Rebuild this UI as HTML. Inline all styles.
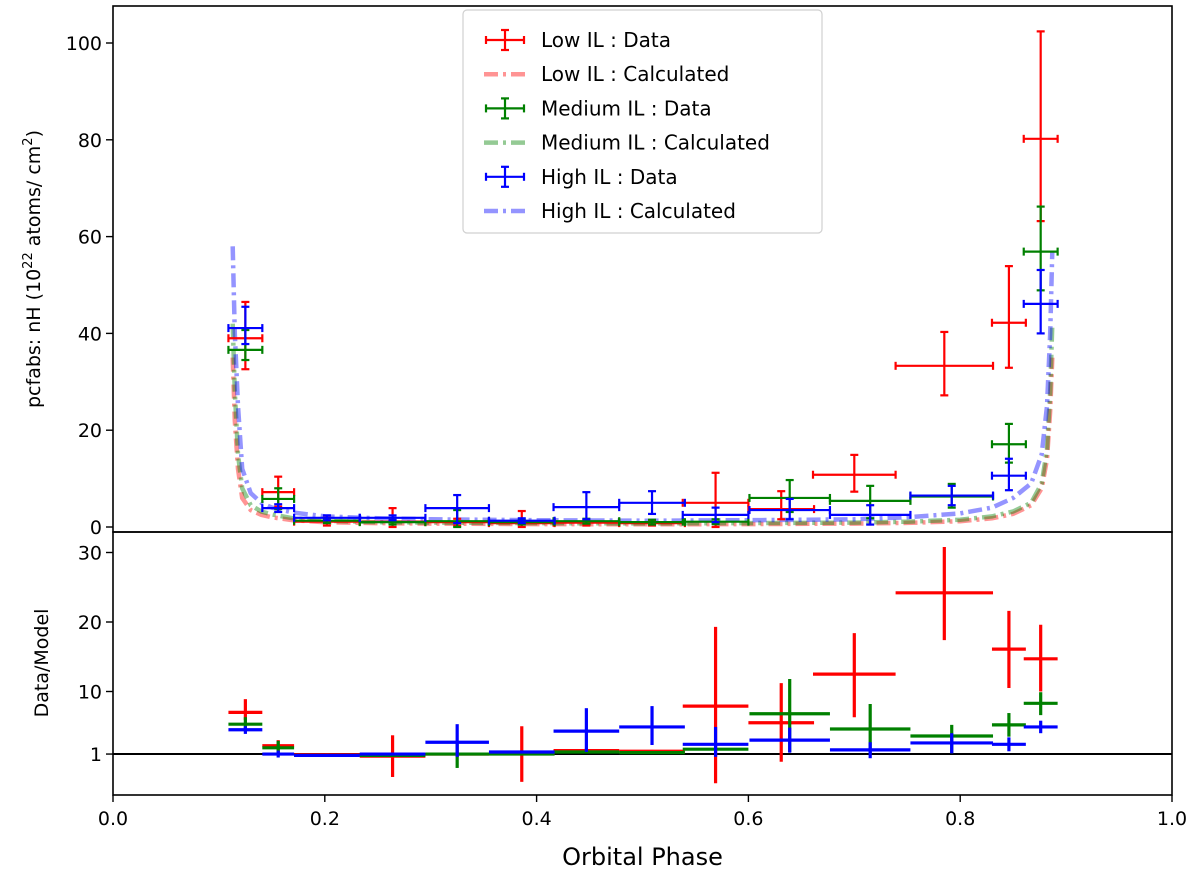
<!DOCTYPE html>
<html><head><meta charset="utf-8"><style>
body{margin:0;background:#fff}
svg{display:block;font-family:"DejaVu Sans","Liberation Sans",sans-serif}
</style></head><body>
<svg id="chart" width="1200" height="875" viewBox="0 0 1200 875" xmlns="http://www.w3.org/2000/svg"></svg>
<script>
// ---- data ----
const redPhase=[0.125,0.156,0.202,0.264,0.325,0.386,0.447,0.509,0.569,0.631,0.70,0.785,0.846,0.876];
const redPhaseErr=[0.016,0.015,0.031,0.031,0.030,0.031,0.031,0.031,0.031,0.031,0.039,0.046,0.016,0.016];
const redNH=[39,7.2,1.1,1.1,1.0,0.8,0.9,0.8,5.0,3.7,10.8,33.3,42.2,80.2];
const redNHLo=[32.6,4.2,0.3,0,0.3,0,0.3,0.3,0,1.6,7.3,27.2,32.9,63.2];
const redNHHi=[46.5,10.4,1.9,3.9,1.7,3.3,1.5,1.3,11.2,7.4,14.9,40.3,53.9,102.4];
const redRatio=[7.0,2.2,0.9,0.7,1.0,1.1,1.5,1.4,7.9,5.5,12.5,24.2,16.1,14.7];
const redRatioLo=[5.9,1.3,0.6,-2.3,0.6,-3,1.2,1.2,-3.2,-0.1,6.3,17.4,10.5,10.0];
const redRatioHi=[8.9,3.0,1.1,3.7,1.4,5.0,1.8,1.6,19.3,11.2,18.4,30.8,21.6,19.6];

const greenPhase=[0.125,0.156,0.202,0.264,0.325,0.386,0.447,0.509,0.569,0.639,0.715,0.792,0.846,0.876];
const greenPhaseErr=[0.016,0.015,0.031,0.031,0.030,0.031,0.031,0.031,0.031,0.038,0.038,0.039,0.016,0.016];
const greenNH=[36.6,5.8,1.3,1.0,1.2,1.0,1.2,1.0,1.1,6.0,5.4,6.3,17.1,56.9];
const greenNHLo=[34.5,3.7,0.8,0.5,0,0.5,0.7,0.5,0.6,3.1,1.8,4.0,13.3,48.9];
const greenNHHi=[40.7,8.0,1.8,1.5,3.5,1.5,1.7,1.5,1.6,9.7,8.5,8.9,21.3,66.2];
const greenRatio=[5.3,1.9,0.8,0.8,1.0,1.0,1.3,1.2,1.7,6.8,4.6,3.6,5.2,8.3];
const greenRatioLo=[4.3,0.9,0.6,0.6,-1.0,0.8,1.1,1.0,1.5,1.3,1.1,1.1,3.5,6.6];
const greenRatioHi=[6.3,2.9,1.0,1.0,2.5,1.2,1.5,1.4,1.9,11.8,8.2,5.2,6.9,9.9];

const bluePhase=[0.125,0.156,0.202,0.264,0.325,0.386,0.447,0.509,0.569,0.639,0.715,0.792,0.846,0.876];
const bluePhaseErr=[0.016,0.015,0.031,0.031,0.030,0.031,0.031,0.031,0.031,0.038,0.038,0.039,0.016,0.016];
const blueNH=[41.1,3.9,1.9,1.9,3.9,1.3,4.1,5.0,2.5,3.5,2.5,6.5,10.6,46.1];
const blueNHLo=[37.8,3.1,1.4,1.4,0.8,0.8,1.6,2.7,1.0,1.6,0.5,4.5,7.6,40];
const blueNHHi=[45.5,4.7,2.4,2.4,6.6,1.8,7.2,7.4,4.0,5.8,4.5,8.5,14.1,53.1];
const blueRatio=[4.5,1.0,0.8,1.0,2.7,1.3,4.3,4.9,2.4,3.0,1.6,2.6,2.4,4.9];
const blueRatioLo=[3.9,0.5,0.6,0.8,0.6,1.1,1.3,2.3,0.6,1.2,0.4,1.1,1.4,4.0];
const blueRatioHi=[5.0,1.5,1.0,1.2,5.3,1.5,7.6,7.9,4.9,4.8,2.7,4.0,3.4,5.8];

const modelPhase=[0.113,0.115,0.118,0.122,0.13,0.14,0.15,0.17,0.2,0.25,0.3,0.4,0.5,0.6,0.7,0.75,0.8,0.83,0.85,0.867,0.877,0.882,0.885,0.887];
const modelLow=[35,22,12,6,3.5,2.5,2.0,1.4,1.0,0.8,0.7,0.6,0.55,0.6,0.7,0.85,1.2,1.8,2.7,4.5,8,14,24,35];
const modelMed=[42,28,15,8,4.5,3.2,2.6,1.8,1.3,1.0,0.9,0.8,0.75,0.8,0.9,1.1,1.5,2.2,3.2,5,9,16,28,42];
const modelHigh=[58,40,25,12,7,5,4,3,2.2,1.8,1.6,1.4,1.3,1.4,1.6,2.0,2.8,4,6,9,15,25,40,57];

const xTicks=[0,0.2,0.4,0.6,0.8,1.0];
const xTickLabels=["0.0","0.2","0.4","0.6","0.8","1.0"];
const topTicks=[0,20,40,60,80,100];
const bottomTicks=[1,10,20,30];

// ---- axes ----
const L=113,R=1172,T1=6,B1=532,T2=532,B2=795;
const xs=v=>L+(R-L)*v;
const yTop=v=>527-4.84*v;
const yBot=v=>761-6.95*v;
const NS="http://www.w3.org/2000/svg";
const svg=document.getElementById('chart');
function el(tag,attrs,parent){const e=document.createElementNS(NS,tag);for(const k in attrs)e.setAttribute(k,attrs[k]);(parent||svg).appendChild(e);return e;}

const defs=el('defs',{});
const c1=el('clipPath',{id:'clipTop'},defs);el('rect',{x:L,y:T1,width:R-L,height:B1-T1},c1);
const c2=el('clipPath',{id:'clipBot'},defs);el('rect',{x:L,y:T2,width:R-L,height:B2-T2},c2);

const gTop=el('g',{'clip-path':'url(#clipTop)'});


const gBot=el('g',{'clip-path':'url(#clipBot)'});



function model(vals,color,name){
  let d='';modelPhase.forEach((p,i)=>{d+=(i?'L':'M')+xs(p).toFixed(1)+','+yTop(vals[i]).toFixed(1);});
  const p=el('path',{d:d,fill:'none',stroke:color,'stroke-opacity':0.42,'stroke-width':4.5,'stroke-dasharray':'14,5,3,5'},gTop);
  
  
}
model(modelLow,'#ff0000','low-il-model-line');
model(modelMed,'#008000','medium-il-model-line');
model(modelHigh,'#0000ff','high-il-model-line');

function errTop(ph,pe,v,lo,hi,color,name){
  ph.forEach((p,i)=>{
    const g=el('g',{stroke:color,'stroke-width':2.2,fill:'none'},gTop);
    
    
    const x=xs(p),x1=xs(p-pe[i]),x2=xs(p+pe[i]),y=yTop(v[i]),yl=yTop(lo[i]),yh=yTop(hi[i]);
    el('line',{x1:x1,x2:x2,y1:y,y2:y},g);
    el('line',{x1:x,x2:x,y1:yl,y2:yh},g);
    el('line',{x1:x1,x2:x1,y1:y-4,y2:y+4},g);
    el('line',{x1:x2,x2:x2,y1:y-4,y2:y+4},g);
    el('line',{x1:x-4,x2:x+4,y1:yl,y2:yl},g);
    el('line',{x1:x-4,x2:x+4,y1:yh,y2:yh},g);
  });
}
errTop(redPhase,redPhaseErr,redNH,redNHLo,redNHHi,'#ff0000','low-il-data');
errTop(greenPhase,greenPhaseErr,greenNH,greenNHLo,greenNHHi,'#008000','medium-il-data');
errTop(bluePhase,bluePhaseErr,blueNH,blueNHLo,blueNHHi,'#0000ff','high-il-data');

el('line',{x1:L,x2:R,y1:yBot(1),y2:yBot(1),stroke:'#000','stroke-width':2},gBot);
function errBot(ph,pe,v,lo,hi,color,name){
  ph.forEach((p,i)=>{
    const g=el('g',{stroke:color,'stroke-width':3.2,fill:'none'},gBot);
    
    
    const x=xs(p),y=yBot(v[i]);
    el('line',{x1:xs(p-pe[i]),x2:xs(p+pe[i]),y1:y,y2:y},g);
    el('line',{x1:x,x2:x,y1:yBot(lo[i]),y2:yBot(hi[i])},g);
  });
}
errBot(redPhase,redPhaseErr,redRatio,redRatioLo,redRatioHi,'#ff0000','low-il');
errBot(greenPhase,greenPhaseErr,greenRatio,greenRatioLo,greenRatioHi,'#008000','medium-il');
errBot(bluePhase,bluePhaseErr,blueRatio,blueRatioLo,blueRatioHi,'#0000ff','high-il');

const f1=el('rect',{x:L,y:T1,width:R-L,height:B1-T1,fill:'none',stroke:'#000','stroke-width':1.6});


const f2=el('rect',{x:L,y:T2,width:R-L,height:B2-T2,fill:'none',stroke:'#000','stroke-width':1.6});



xTicks.forEach((t,i)=>{
  el('line',{x1:xs(t),x2:xs(t),y1:B2,y2:B2+7,stroke:'#000','stroke-width':1.4});
  const tx=el('text',{x:xs(t),y:B2+30,'font-size':19,'text-anchor':'middle',fill:'#000'});
  tx.textContent=xTickLabels[i];
  
  
});
topTicks.forEach(t=>{
  el('line',{x1:L-7,x2:L,y1:yTop(t),y2:yTop(t),stroke:'#000','stroke-width':1.4});
  const tx=el('text',{x:L-11,y:yTop(t)+7,'font-size':19,'text-anchor':'end',fill:'#000'});
  tx.textContent=String(t);
  
  
});
bottomTicks.forEach(t=>{
  el('line',{x1:L-7,x2:L,y1:yBot(t),y2:yBot(t),stroke:'#000','stroke-width':1.4});
  const tx=el('text',{x:L-11,y:yBot(t)+7,'font-size':19,'text-anchor':'end',fill:'#000'});
  tx.textContent=String(t);
  
  
});

const xt=el('text',{x:(L+R)/2,y:865,'font-size':24,'text-anchor':'middle',fill:'#000'});
xt.textContent='Orbital Phase';


const yt=el('text',{x:0,y:0,'font-size':19,'text-anchor':'middle',fill:'#000',transform:'translate(40,269) rotate(-90)'});
yt.innerHTML='pcfabs: nH (10<tspan dy="-8" font-size="13">22</tspan><tspan dy="8"> atoms/ cm</tspan><tspan dy="-8" font-size="13">2</tspan><tspan dy="8">)</tspan>';


const yb=el('text',{x:0,y:0,'font-size':19,'text-anchor':'middle',fill:'#000',transform:'translate(48,663) rotate(-90)'});
yb.textContent='Data/Model';



const lg=el('g',{});


el('rect',{x:463,y:10,width:359,height:223,rx:4,fill:'#fff','fill-opacity':0.85,stroke:'#d0d0d0','stroke-width':1.2},lg);
const legLabels=['Low IL : Data','Low IL : Calculated','Medium IL : Data','Medium IL : Calculated','High IL : Data','High IL : Calculated'];
const legColors=['#ff0000','#ff0000','#008000','#008000','#0000ff','#0000ff'];
legLabels.forEach((lab,i)=>{
  const y=40+i*34.2;
  const g=el('g',{},lg);
  
  
  if(i%2===0){
    const h=el('g',{stroke:legColors[i],'stroke-width':2.2},g);
    el('line',{x1:486,x2:524,y1:y,y2:y},h);
    el('line',{x1:505,x2:505,y1:y-10,y2:y+10},h);
    el('line',{x1:486,x2:486,y1:y-4,y2:y+4},h);
    el('line',{x1:524,x2:524,y1:y-4,y2:y+4},h);
    el('line',{x1:501,x2:509,y1:y-10,y2:y-10},h);
    el('line',{x1:501,x2:509,y1:y+10,y2:y+10},h);
  }else{
    el('line',{x1:484,x2:526,y1:y,y2:y,stroke:legColors[i],'stroke-opacity':0.42,'stroke-width':4.5,'stroke-dasharray':'14,5,3,5'},g);
  }
  const t=el('text',{x:541,y:y+7,'font-size':20,fill:'#000'},g);
  t.textContent=lab;
});
</script>
</body></html>
